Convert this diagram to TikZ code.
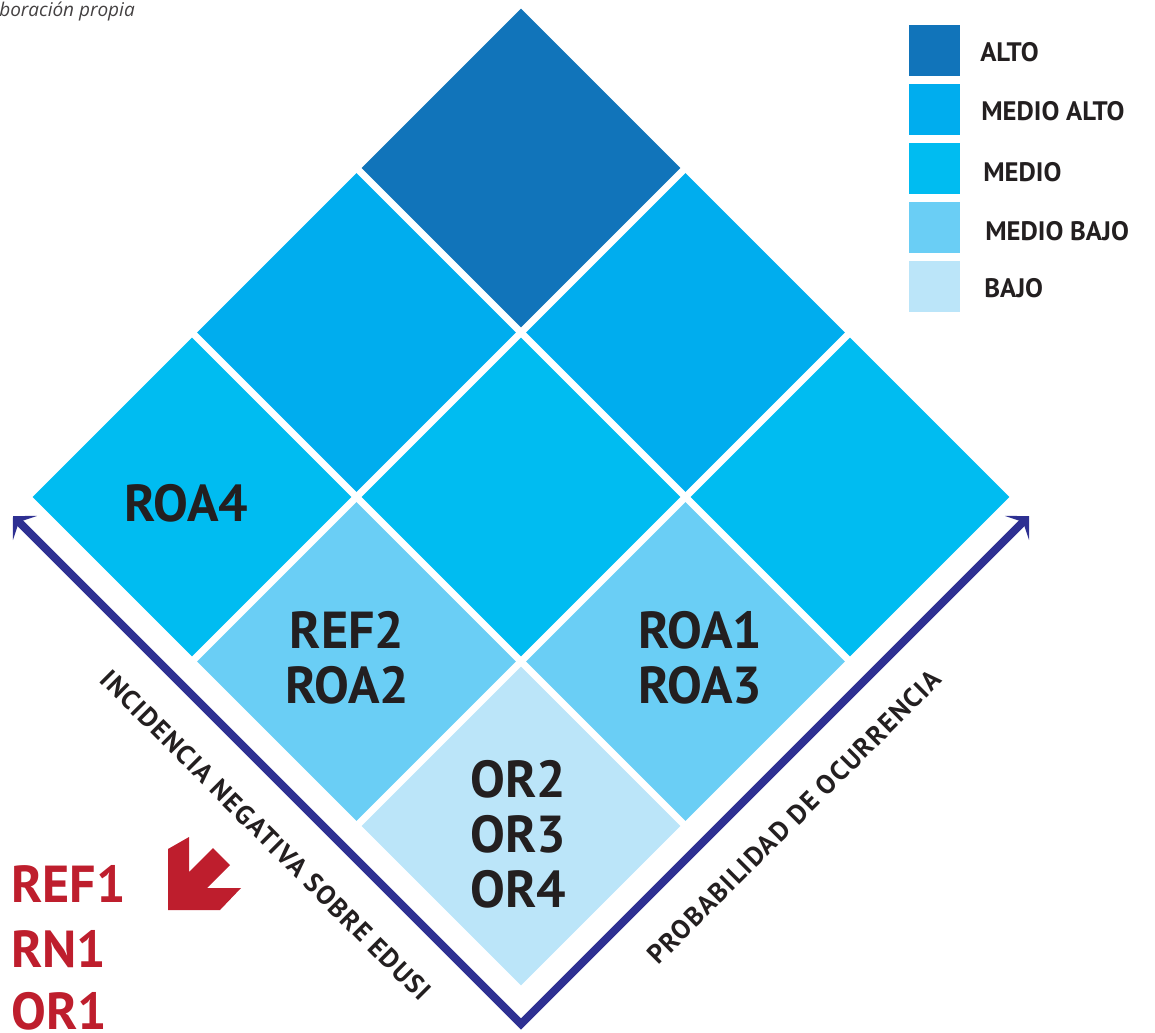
\documentclass[tikz,border=0pt]{standalone}
\usepackage{fontspec}
\setmainfont{PT Sans}
\newfontfamily\notafont{Open Sans}
\usepackage{xcolor}
\usetikzlibrary{shapes.geometric, arrows.meta, positioning}

\definecolor{alto}{HTML}{1174BA}
\definecolor{medioalto}{HTML}{00ADEE}
\definecolor{medio}{HTML}{00BCF1}
\definecolor{mediobajo}{HTML}{6ACEF5}
\definecolor{bajo}{HTML}{BBE5F9}
\definecolor{eje}{HTML}{2E3092}
\definecolor{rojo}{HTML}{BE1E2D}
\definecolor{texto}{HTML}{231F20}

\begin{document}
\begin{tikzpicture}[
    x=0.025cm, y=-0.025cm,
    cell/.style={diamond, fill=#1, minimum width=7.975cm, minimum height=7.975cm, inner sep=0pt},
    celltxt/.style={font=\bfseries\fontsize{37}{39}\selectfont, text=texto, align=center, inner sep=0pt},
    legsq/.style={rectangle, fill=#1, minimum width=1.275cm, minimum height=1.275cm, inner sep=0pt},
    legtxt/.style={font=\bfseries\fontsize{19}{21}\selectfont, text=texto, anchor=west, inner sep=0pt},
    axistxt/.style={font=\bfseries\fontsize{19}{21}\selectfont\addfontfeatures{LetterSpace=5}, text=texto, inner sep=0pt},
    redtxt/.style={font=\bfseries\fontsize{37}{39}\selectfont, text=rojo, anchor=base west, inner sep=0pt},
    axis/.style={draw=eje, line width=5.7pt, {Stealth[angle=90:17pt, inset=6pt]}-{Stealth[angle=90:17pt, inset=6pt]}}
]
    \useasboundingbox (0,0) rectangle (1155,1032);

    % Source note (cut at the left edge)
    \node[font=\notafont\itshape\fontsize{13.5}{16}\selectfont, text=texto!85, anchor=base west, inner sep=0pt] (nota) at (-1,16) {boración propia};

    % All cells
    \node[cell=alto] (c11) at (521,168) {};
    \node[cell=medioalto] (c01) at (356.5,332.5) {};
    \node[cell=medioalto] (c10) at (685.5,332.5) {};
    \node[cell=medio] (cm1) at (192,497) {};
    \node[cell=medio] (c00) at (521,497) {};
    \node[cell=medio] (c1m) at (850,497) {};
    \node[cell=mediobajo] (cm0) at (356.5,661.5) {};
    \node[cell=mediobajo] (c0m) at (685.5,661.5) {};
    \node[cell=bajo] (cmm) at (521,826) {};

    % Risks in the cells
    \node[celltxt] (roa4) at (186,503) {ROA4};
    \node[celltxt] (ref2) at (347,658) {REF2\\ROA2};
    \node[celltxt] (roa1) at (700,658) {ROA1\\ROA3};
    \node[celltxt] (or2) at (518,834) {OR2\\OR3\\OR4};

    % Legend
    \node[legsq=alto] (l1) at (934.5,50.5) {};
    \node[legsq=medioalto] (l2) at (934.5,109.5) {};
    \node[legsq=medio] (l3) at (934.5,168.5) {};
    \node[legsq=mediobajo] (l4) at (934.5,227.5) {};
    \node[legsq=bajo] (l5) at (934.5,286.5) {};
    \node[legtxt] (t1) at (980,52.5) {ALTO};
    \node[legtxt] (t2) at (981,111.5) {MEDIO ALTO};
    \node[legtxt] (t3) at (983,172) {MEDIO};
    \node[legtxt] (t4) at (985,231) {MEDIO BAJO};
    \node[legtxt] (t5) at (984,288) {BAJO};

    % Axes
    \coordinate (izq) at (13,516);
    \coordinate (vertice) at (521,1024);
    \coordinate (der) at (1029,516);
    \draw[axis] (izq) -- (vertice) -- (der);
    \node[axistxt, rotate=-45] (incid) at (266,835) {INCIDENCIA NEGATIVA SOBRE EDUSI};
    \node[axistxt, rotate=45] (prob) at (794,817) {PROBABILIDAD DE OCURRENCIA};

    % Risks outside the matrix
    \fill[rojo] (189,837) -- (189,872) -- (213,848) -- (230,865) -- (207,888) -- (241,888) -- (220,910) -- (168,910) -- (168,849) -- cycle;
    \node[redtxt] (ref1) at (11,902) {REF1};
    \node[redtxt] (rn1) at (11,967) {RN1};
    \node[redtxt] (or1) at (11,1029) {OR1};
\end{tikzpicture}
\end{document}
